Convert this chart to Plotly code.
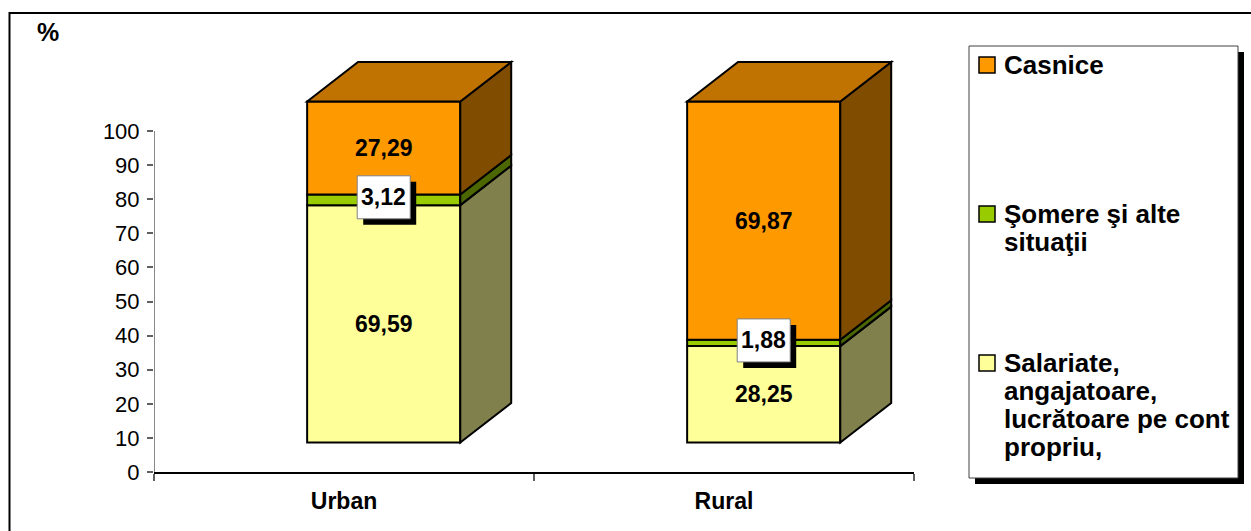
import plotly.graph_objects as go

# ---------------- data ----------------
categories = ["Urban", "Rural"]
series_names = ["Salariate, angajatoare, lucrătoare pe cont propriu,",
                "Şomere şi alte situaţii",
                "Casnice"]
legend_lines = [["Salariate,", "angajatoare,", "lucrătoare pe cont", "propriu,"],
                ["Şomere şi alte", "situaţii"],
                ["Casnice"]]
salariate = [69.59, 28.25]
somere = [3.12, 1.88]
casnice = [27.29, 69.87]
y_ticks = list(range(0, 101, 10))

series_values = [salariate, somere, casnice]

# ---------------- styles ----------------
front_colors = ["#FFFF99", "#99CC00", "#FF9900"]
top_colors = ["#C0C073", "#739900", "#C07300"]
side_colors = ["#80804C", "#4C6600", "#804C00"]
boxed_series = [False, True, False]

W, H = 1251, 531
PL, PR, PT, PB = 154, 914, 40, 472          # plot area in pixels
PX_PER_UNIT = 3.41
Y_TOP = (PB - PT) / PX_PER_UNIT

FRONT_OFF = -0.097   # front face left edge relative to category centre (x units)
FRONT_W = 0.403
BASE0 = 8.67         # 3-D floor lift (y units)
DX = 0.134           # depth offset (x units)
DY = 11.57           # depth offset (y units)
FONT = "Liberation Sans, Arial, sans-serif"


def ppx(x):
    return (x - PL) / (PR - PL)


def ppy(y):
    return (PB - y) / (PB - PT)


fig = go.Figure()
shapes = []
annotations = []

xs = list(range(len(categories)))

# front faces as bars
cum = [BASE0] * len(categories)
bases_per_series = []
for s, vals in enumerate(series_values):
    bases = list(cum)
    bases_per_series.append(bases)
    fig.add_trace(go.Bar(
        x=xs, y=vals, base=bases, width=FRONT_W, offset=FRONT_OFF,
        marker=dict(color=front_colors[s], line=dict(color="black", width=2)),
        name=series_names[s], showlegend=False, hoverinfo="skip"))
    cum = [c + v for c, v in zip(cum, vals)]

# side faces and top faces
for i, c in enumerate(xs):
    x0 = c + FRONT_OFF
    x1 = x0 + FRONT_W
    for s, vals in enumerate(series_values):
        lo = bases_per_series[s][i]
        hi = lo + vals[i]
        path = (f"M {x1},{lo} L {x1 + DX},{lo + DY} L {x1 + DX},{hi + DY} "
                f"L {x1},{hi} Z")
        shapes.append(dict(type="path", path=path, xref="x", yref="y",
                           fillcolor=side_colors[s],
                           line=dict(color="black", width=2), layer="above"))
    top = cum[i]
    s_top = len(series_values) - 1
    path = (f"M {x0},{top} L {x0 + DX},{top + DY} L {x1 + DX},{top + DY} "
            f"L {x1},{top} Z")
    shapes.append(dict(type="path", path=path, xref="x", yref="y",
                       fillcolor=top_colors[s_top],
                       line=dict(color="black", width=2), layer="above"))

# value labels
for s, vals in enumerate(series_values):
    for i, c in enumerate(xs):
        xc = c + FRONT_OFF + FRONT_W / 2
        yc = bases_per_series[s][i] + vals[i] / 2
        txt = f"{vals[i]:.2f}".replace(".", ",")
        if boxed_series[s]:
            # shadow box
            shapes.append(dict(type="rect", xref="x", yref="y",
                               xsizemode="pixel", ysizemode="pixel",
                               xanchor=xc, yanchor=yc,
                               x0=-20.5, x1=32.5, y0=-25, y1=18,
                               fillcolor="black", line=dict(width=0),
                               layer="above"))
            # white label box
            shapes.append(dict(type="rect", xref="x", yref="y",
                               xsizemode="pixel", ysizemode="pixel",
                               xanchor=xc, yanchor=yc,
                               x0=-26.5, x1=26.5, y0=-19, y1=24,
                               fillcolor="white",
                               line=dict(color="#808080", width=1),
                               layer="above"))
            annotations.append(dict(x=xc, y=yc, xref="x", yref="y",
                                    text=f"<b>{txt}</b>", showarrow=False,
                                    yshift=2.5,
                                    font=dict(family=FONT, size=23, color="black")))
        else:
            annotations.append(dict(x=xc, y=yc, xref="x", yref="y",
                                    text=f"<b>{txt}</b>", showarrow=False,
                                    font=dict(family=FONT, size=23, color="black")))

# y axis line (only 0..100)
shapes.append(dict(type="line", xref="x", yref="y", x0=-0.5, x1=-0.5,
                   y0=0, y1=y_ticks[-1], line=dict(color="#606060", width=1.5)))

# outer chart border
shapes.append(dict(type="rect", xref="paper", yref="paper",
                   x0=ppx(9.5), x1=ppx(1265), y0=ppy(13), y1=ppy(545),
                   line=dict(color="black", width=2), fillcolor="rgba(0,0,0,0)",
                   layer="below"))

# "%" unit label
annotations.append(dict(x=ppx(35), y=ppy(32), xref="paper", yref="paper",
                        xanchor="left", yanchor="middle", text="<b>%</b>",
                        showarrow=False,
                        font=dict(family=FONT, size=25, color="black")))

# manual legend
shapes.append(dict(type="rect", xref="paper", yref="paper",
                   x0=ppx(975), x1=ppx(1244), y0=ppy(484), y1=ppy(52),
                   fillcolor="black", line=dict(color="black", width=0)))
shapes.append(dict(type="rect", xref="paper", yref="paper",
                   x0=ppx(969), x1=ppx(1238), y0=ppy(478), y1=ppy(46),
                   fillcolor="white", line=dict(color="#404040", width=1)))
legend_order = [2, 1, 0]
legend_first_y = [65, 214, 363]
LINE_H = 28
for k, s in enumerate(legend_order):
    yc = legend_first_y[k]
    shapes.append(dict(type="rect", xref="paper", yref="paper",
                       x0=ppx(979), x1=ppx(995), y0=ppy(yc + 8), y1=ppy(yc - 8),
                       fillcolor=front_colors[s],
                       line=dict(color="black", width=1.5)))
    for j, line in enumerate(legend_lines[s]):
        annotations.append(dict(x=ppx(1002), y=ppy(yc + j * LINE_H),
                                xref="paper", yref="paper", xanchor="left",
                                yanchor="middle", text=f"<b>{line}</b>",
                                showarrow=False,
                                font=dict(family=FONT, size=26, color="black")))

fig.update_layout(
    width=W, height=H,
    margin=dict(l=PL, r=W - PR, t=PT, b=H - PB, pad=0),
    paper_bgcolor="white", plot_bgcolor="white",
    barmode="overlay", showlegend=False,
    shapes=shapes, annotations=annotations,
    font=dict(family=FONT, color="black"),
    xaxis=dict(range=[-0.5, len(categories) - 0.5], tickmode="array",
               tickvals=xs, ticktext=[f"<b>{c}</b>" for c in categories],
               ticks="", showgrid=False, zeroline=False,
               showline=True, linecolor="black", linewidth=1.5,
               tickfont=dict(family=FONT, size=23, color="black"),
               ticklabelstandoff=8,
               minor=dict(tickmode="array",
                          tickvals=[x - 0.5 for x in range(len(categories) + 1)],
                          ticks="outside", ticklen=7, tickcolor="#606060",
                          tickwidth=1.5, showgrid=False),
               fixedrange=True),
    yaxis=dict(range=[0, Y_TOP], tickmode="array", tickvals=y_ticks,
               ticks="outside", ticklen=6, tickcolor="#606060", tickwidth=1.5,
               showgrid=False, zeroline=False, showline=False,
               tickfont=dict(family=FONT, size=22, color="black"),
               ticklabelstandoff=3, fixedrange=True),
)

fig.write_html("out.html")
